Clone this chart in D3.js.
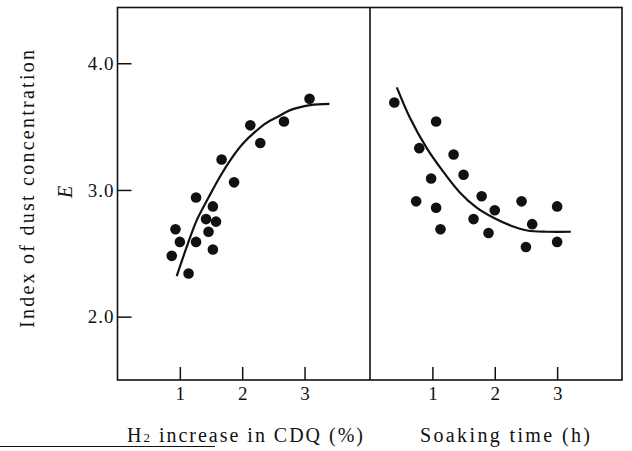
<!DOCTYPE html>
<head>
  <meta charset="utf-8">
  <script src="https://d3js.org/d3.v7.min.js"></script>
  <style>
    body { margin:0; background:#fff; }
    svg text { font-family:"Liberation Serif","DejaVu Serif",serif; fill:#111; }
  </style>
</head>
<body>
  <div id=figure></div>
  <script>
    // left panel : H2 increase in CDQ (%) vs E
    var h2X = [0.93, 1.00, 0.87, 1.14, 1.26, 1.26, 1.42, 1.53, 1.58, 1.46, 1.53, 1.67, 1.87, 2.13, 2.29, 2.67, 3.08];
    var h2E = [2.69, 2.59, 2.48, 2.34, 2.94, 2.59, 2.77, 2.87, 2.75, 2.67, 2.53, 3.24, 3.06, 3.51, 3.37, 3.54, 3.72];
    var h2CurveX = [0.95, 1.11, 1.27, 1.46, 1.65, 1.83, 2.02, 2.21, 2.39, 2.58, 2.77, 3.09, 3.40];
    var h2CurveE = [2.32, 2.55, 2.76, 2.94, 3.11, 3.25, 3.37, 3.46, 3.53, 3.58, 3.63, 3.67, 3.68];

    // right panel : soaking time (h) vs E
    var soakX = [0.39, 1.06, 0.79, 1.34, 0.98, 1.50, 0.74, 1.06, 1.13, 1.79, 2.00, 1.66, 1.90, 2.43, 2.60, 2.50, 3.00, 3.00];
    var soakE = [3.69, 3.54, 3.33, 3.28, 3.09, 3.12, 2.91, 2.86, 2.69, 2.95, 2.84, 2.77, 2.66, 2.91, 2.73, 2.55, 2.87, 2.59];
    var soakCurveX = [0.43, 0.64, 0.91, 1.18, 1.44, 1.71, 1.98, 2.25, 2.52, 2.84, 3.22];
    var soakCurveE = [3.81, 3.57, 3.33, 3.14, 2.98, 2.86, 2.78, 2.72, 2.68, 2.67, 2.67];

    var yTicks = [2.0, 3.0, 4.0];
    var xTicks = [1, 2, 3];

    var width = 632, height = 451;
    var pLeft = 117.5, pMid = 370, pRight = 622, pTop = 7.5, pBottom = 380;

    var svg = d3.select("#figure").append("svg")
      .attr("width", width)
      .attr("height", height);

    var y = d3.scaleLinear().domain([1.5, 4.44]).range([pBottom, pTop]);
    var xL = d3.scaleLinear().domain([0, 4.05]).range([pLeft, pMid]);
    var xR = d3.scaleLinear().domain([0, 4.04]).range([pMid, pRight]);

    // frame + divider
    svg.append("rect")
      .attr("x", pLeft).attr("y", pTop)
      .attr("width", pRight - pLeft).attr("height", pBottom - pTop)
      .style("fill", "none").style("stroke", "#111").style("stroke-width", 1.6);
    svg.append("line")
      .attr("x1", pMid).attr("x2", pMid).attr("y1", pTop).attr("y2", pBottom)
      .style("stroke", "#111").style("stroke-width", 1.6);

    var yAxis = d3.axisLeft(y).tickValues(yTicks).tickSize(-14).tickPadding(3).tickFormat(d3.format(".1f"));
    var gy = svg.append("g").attr("transform", "translate(" + pLeft + ",0)").call(yAxis);

    var gxl = svg.append("g").attr("transform", "translate(0," + pBottom + ")")
      .call(d3.axisBottom(xL).tickValues(xTicks).tickSize(-13).tickPadding(7).tickFormat(d3.format("d")));
    var gxr = svg.append("g").attr("transform", "translate(0," + pBottom + ")")
      .call(d3.axisBottom(xR).tickValues(xTicks).tickSize(-13).tickPadding(7).tickFormat(d3.format("d")));

    [gy, gxl, gxr].forEach(function(g) {
      g.select(".domain").remove();
      g.selectAll(".tick line").style("stroke", "#111").style("stroke-width", 1.5);
      g.selectAll(".tick text").style("font-size", "19px").style("fill", "#111")
        .style("font-family", '"Liberation Serif", serif');
    });
    gy.selectAll(".tick text").style("letter-spacing", "1px");

    function panel(xs, xv, yv, cx, cy) {
      var pts = xv.map(function(d, i) { return [d, yv[i]]; });
      var crv = cx.map(function(d, i) { return [d, cy[i]]; });
      var line = d3.line().curve(d3.curveCatmullRom)
        .x(function(d) { return xs(d[0]); })
        .y(function(d) { return y(d[1]); });
      svg.append("path").datum(crv)
        .attr("d", line)
        .style("fill", "none").style("stroke", "#111").style("stroke-width", 2.2);
      svg.append("g").selectAll("circle").data(pts).enter().append("circle")
        .attr("cx", function(d) { return xs(d[0]); })
        .attr("cy", function(d) { return y(d[1]); })
        .attr("r", 5.3)
        .style("fill", "#111");
    }
    panel(xL, h2X, h2E, h2CurveX, h2CurveE);
    panel(xR, soakX, soakE, soakCurveX, soakCurveE);

    // axis titles
    svg.append("text")
      .attr("transform", "translate(34,189) rotate(-90)")
      .attr("text-anchor", "middle")
      .attr("textLength", 278).attr("lengthAdjust", "spacing")
      .style("font-size", "20px")
      .text("Index of dust concentration");
    svg.append("text")
      .attr("transform", "translate(72,192) rotate(-90)")
      .attr("text-anchor", "middle")
      .style("font-size", "20px").style("font-style", "italic")
      .text("E");

    var t1 = svg.append("text")
      .attr("x", 127).attr("y", 442)
      .attr("textLength", 236).attr("lengthAdjust", "spacing")
      .style("font-size", "20px");
    t1.append("tspan").text("H");
    t1.append("tspan").style("font-size", "13px").text("2");
    t1.append("tspan").text(" increase in CDQ (%)");

    svg.append("text")
      .attr("x", 420).attr("y", 442)
      .attr("textLength", 170).attr("lengthAdjust", "spacing")
      .style("font-size", "20px")
      .text("Soaking time (h)");

    // rule at the bottom-left of the page
    svg.append("line")
      .attr("x1", 0).attr("x2", 215).attr("y1", 446.5).attr("y2", 446.5)
      .style("stroke", "#111").style("stroke-width", 1.2);
  </script>
</body>
